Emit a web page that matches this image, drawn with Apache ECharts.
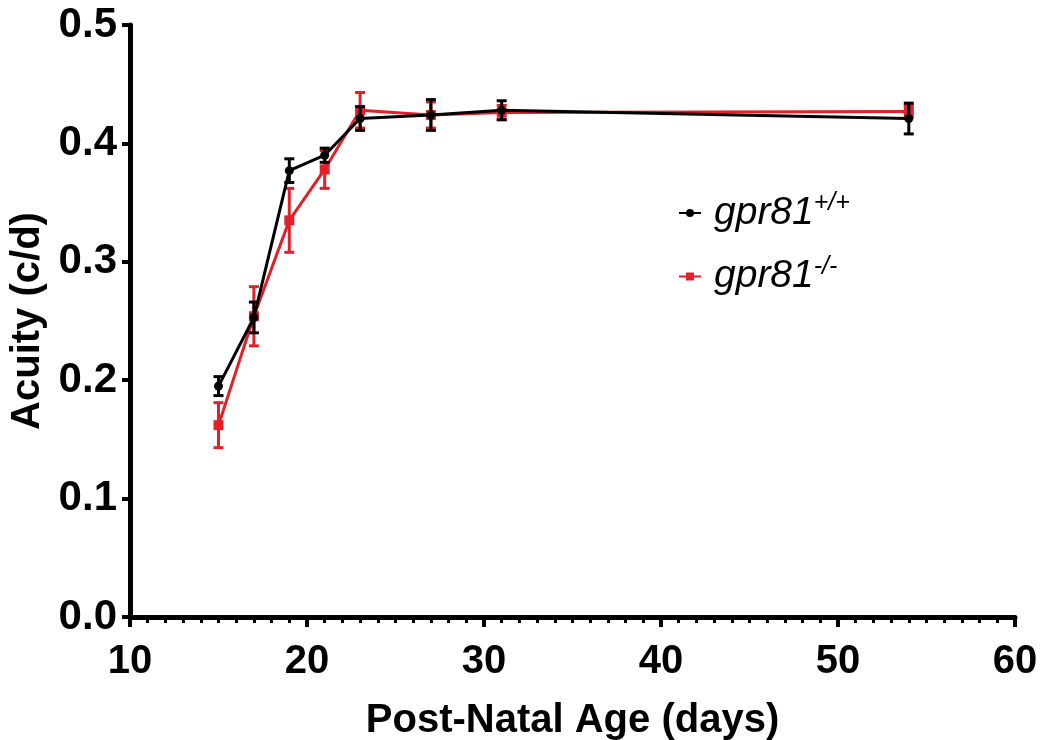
<!DOCTYPE html>
<html>
<head>
<meta charset="utf-8">
<script src="https://cdn.jsdelivr.net/npm/echarts@6/dist/echarts.min.js"></script>
<style>
  html, body { margin: 0; padding: 0; background: #fff; }
  #chart { width: 1045px; height: 740px; }
</style>
</head>
<body>
<div id="chart"></div>
<script>
// post-natal age (days)
var days = [15, 17, 19, 21, 23, 27, 31, 54]
// gpr81 +/+ acuity mean and error
var wtMean = [0.195, 0.253, 0.377, 0.390, 0.421, 0.424, 0.428, 0.421]
var wtErr = [0.008, 0.013, 0.010, 0.006, 0.010, 0.013, 0.008, 0.013]
// gpr81 -/- acuity mean and error
var koMean = [0.162, 0.254, 0.335, 0.378, 0.428, 0.424, 0.426, 0.427]
var koErr = [0.019, 0.025, 0.027, 0.016, 0.015, 0.011, 0.006, 0.005]
var xTicks = [10, 20, 30, 40, 50, 60]
var yTicks = [0.0, 0.1, 0.2, 0.3, 0.4, 0.5]

var BLACK = '#000000'
var RED = '#e0212a'
var FONT = 'Liberation Sans, Arial, sans-serif'

function pairs(mean) {
  return days.map(function (d, i) { return [d, mean[i]] })
}
function bars(mean, err) {
  return days.map(function (d, i) { return [d, mean[i] - err[i], mean[i] + err[i]] })
}
function errRender(color) {
  return function (params, api) {
    var x = api.value(0)
    var top = api.coord([x, api.value(2)])
    var bot = api.coord([x, api.value(1)])
    var w = 5
    var st = { stroke: color, lineWidth: 3 }
    return {
      type: 'group',
      children: [
        { type: 'line', shape: { x1: top[0], y1: top[1], x2: bot[0], y2: bot[1] }, style: st },
        { type: 'line', shape: { x1: top[0] - w, y1: top[1], x2: top[0] + w, y2: top[1] }, style: st },
        { type: 'line', shape: { x1: bot[0] - w, y1: bot[1], x2: bot[0] + w, y2: bot[1] }, style: st }
      ]
    }
  }
}

var chart = echarts.init(document.getElementById('chart'))
chart.setOption({
  animation: false,
  backgroundColor: '#fff',
  grid: { left: 130, right: 30, top: 25, bottom: 123, containLabel: false, outerBoundsMode: 'none' },
  legend: {
    data: ['gpr81+/+', 'gpr81-/-'],
    orient: 'vertical',
    left: 673,
    top: 186,
    itemGap: 22,
    itemWidth: 22,
    itemHeight: 10,
    formatter: function (name) {
      return '{i|gpr81}{s|' + name.slice(5) + '}'
    },
    textStyle: {
      rich: {
        i: { fontFamily: FONT, fontStyle: 'italic', fontSize: 39, color: '#000', lineHeight: 44, padding: [0, 0, 0, 8] },
        s: { fontFamily: FONT, fontStyle: 'italic', fontSize: 25, color: '#000', verticalAlign: 'top', lineHeight: 44 }
      }
    }
  },
  xAxis: {
    type: 'value',
    min: 10,
    max: 60,
    interval: 10,
    name: 'Post-Natal Age (days)',
    nameLocation: 'middle',
    nameGap: 84,
    nameTextStyle: { fontFamily: FONT, fontWeight: 'bold', fontSize: 40, color: '#000' },
    axisLine: { onZero: false, lineStyle: { color: BLACK, width: 5 } },
    axisTick: { length: 10, lineStyle: { color: BLACK, width: 4 } },
    minorTick: { show: true, splitNumber: 10, length: 6, lineStyle: { color: BLACK, width: 3 } },
    splitLine: { show: false },
    axisLabel: {
      margin: 25,
      fontFamily: FONT, fontWeight: 'bold', fontSize: 40, color: '#000',
      formatter: function (v) { return xTicks.indexOf(v) >= 0 ? String(v) : '' }
    }
  },
  yAxis: {
    type: 'value',
    min: 0,
    max: 0.5,
    interval: 0.1,
    name: 'Acuity (c/d)',
    nameLocation: 'middle',
    nameGap: 79,
    nameTextStyle: { fontFamily: FONT, fontWeight: 'bold', fontSize: 40, color: '#000' },
    axisLine: { show: true, onZero: false, lineStyle: { color: BLACK, width: 5 } },
    axisTick: { show: true, length: 8, lineStyle: { color: BLACK, width: 4 } },
    splitLine: { show: false },
    axisLabel: {
      margin: 13,
      fontFamily: FONT, fontWeight: 'bold', fontSize: 42, color: '#000',
      formatter: function (v) {
        var t = yTicks.filter(function (y) { return Math.abs(y - v) < 1e-9 })
        return t.length ? t[0].toFixed(1) : ''
      }
    }
  },
  series: [
    {
      name: 'koErr',
      type: 'custom',
      renderItem: errRender(RED),
      encode: { x: 0, y: [1, 2] },
      data: bars(koMean, koErr),
      z: 2
    },
    {
      name: 'gpr81-/-',
      type: 'line',
      data: pairs(koMean),
      color: RED,
      symbol: 'rect',
      symbolSize: 10,
      lineStyle: { color: RED, width: 3 },
      itemStyle: { color: RED },
      z: 3
    },
    {
      name: 'wtErr',
      type: 'custom',
      renderItem: errRender(BLACK),
      encode: { x: 0, y: [1, 2] },
      data: bars(wtMean, wtErr),
      z: 4
    },
    {
      name: 'gpr81+/+',
      type: 'line',
      data: pairs(wtMean),
      color: BLACK,
      symbol: 'circle',
      symbolSize: 9,
      lineStyle: { color: BLACK, width: 3 },
      itemStyle: { color: BLACK },
      z: 5
    }
  ]
})
</script>
</body>
</html>
